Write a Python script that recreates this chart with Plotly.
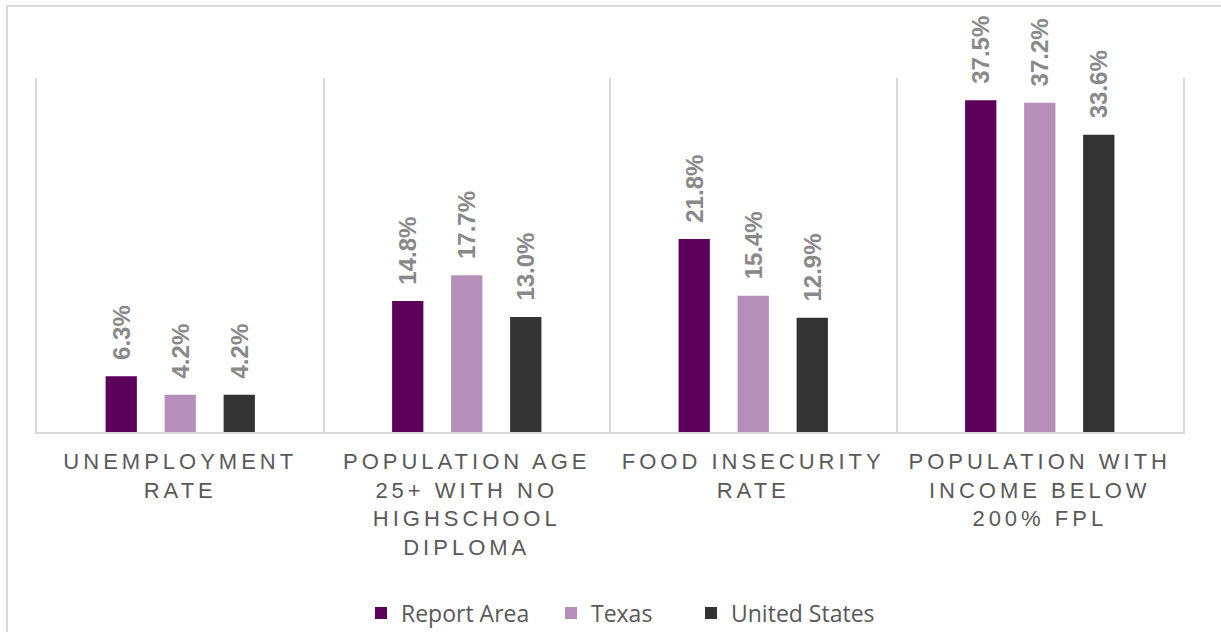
import plotly.graph_objects as go

categories = [
    "UNEMPLOYMENT<br>RATE",
    "POPULATION AGE<br>25+ WITH NO<br>HIGHSCHOOL<br>DIPLOMA",
    "FOOD INSECURITY<br>RATE",
    "POPULATION WITH<br>INCOME BELOW<br>200% FPL",
]
series_names = ["Report Area", "Texas", "United States"]
report_area = [6.3, 14.8, 21.8, 37.5]
texas = [4.2, 17.7, 15.4, 37.2]
united_states = [4.2, 13.0, 12.9, 33.6]

colors = ["#5C005C", "#B58FB9", "#333333"]

W, H = 1221, 632
ML, MR, MT, MB = 37, 38, 78, 200
PW, PH = W - ML - MR, H - MT - MB


def px_x(p):
    return (p - ML) / PW


def px_y(p):
    return (H - MB - p) / PH


legend_ids = ["legend", "legend2", "legend3"]
legend_left_px = [361, 551, 691]

fig = go.Figure()
for name, vals, col, lid in zip(series_names, [report_area, texas, united_states], colors, legend_ids):
    fig.add_trace(go.Bar(
        x=categories, y=vals, name=name, legend=lid,
        marker=dict(color=col, line=dict(width=0)),
        text=["\u00a0\u00a0" + f"{v:.1f}%" for v in vals],
        textposition="outside", textangle=-90,
        textfont=dict(family="Liberation Sans, Arial", size=24, color="#898989", weight="bold"),
        cliponaxis=False, constraintext="none",
    ))

legend_style = dict(orientation="h", xanchor="left", yanchor="middle",
                    font=dict(family="Open Sans", size=23, color="#595959"),
                    bgcolor="rgba(0,0,0,0)")
legends = {}
for lid, lx in zip(legend_ids, legend_left_px):
    legends[lid] = dict(legend_style, x=px_x(lx), y=px_y(613))

fig.update_layout(
    width=W, height=H,
    margin=dict(l=ML, r=MR, t=MT, b=MB, autoexpand=False),
    paper_bgcolor="white", plot_bgcolor="white",
    barmode="group", bargap=0.382, bargroupgap=0.47,
    showlegend=True,
    xaxis=dict(type="category", tickson="boundaries", showgrid=True, gridcolor="#d9d9d9", gridwidth=1.5,
               showline=True, linecolor="#d9d9d9", linewidth=1.5, ticks="",
               tickfont=dict(family="Liberation Sans, Arial", size=22, color="#595959"),
               ticklabelstandoff=9, zeroline=False),
    yaxis=dict(range=[0, 40], showgrid=False, zeroline=False, showticklabels=False, ticks="",
               showline=True, mirror=True, linecolor="#d9d9d9", linewidth=1.5),
    shapes=[dict(type="rect", xref="paper", yref="paper",
                 x0=px_x(7), x1=px_x(W + 20), y0=px_y(H + 20), y1=px_y(6),
                 line=dict(color="#d9d9d9", width=2), fillcolor="rgba(0,0,0,0)", layer="below")],
    **legends,
)

post = """
document.body.style.margin = '0';
var gd = document.getElementById('{plot_id}');
gd.querySelectorAll('.xtick text').forEach(function(t){ t.style.letterSpacing = '4px'; });
"""
fig.write_html("out.html", post_script=post, config={"displayModeBar": False})
